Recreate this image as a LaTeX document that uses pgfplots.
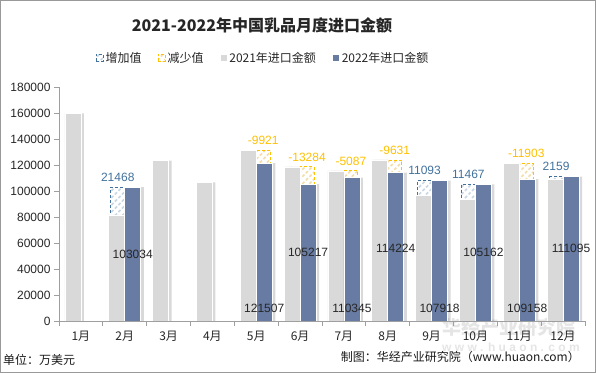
\documentclass[border=0pt]{standalone}
\usepackage{pgfplots}
\pgfplotsset{compat=1.18}
\usepackage{fontspec}
\setmainfont{Liberation Sans}
\newfontfamily\cjk{Noto Sans CJK SC}
\usetikzlibrary{patterns.meta}
\definecolor{c21}{HTML}{D9D9D9}
\definecolor{c22}{HTML}{687BA2}
\definecolor{cinc}{HTML}{41719C}
\definecolor{cdec}{HTML}{FFC000}
\definecolor{incpat}{HTML}{C9D7E3}
\definecolor{decpat}{HTML}{F3DDA8}
\begin{document}
\begin{tikzpicture}
\useasboundingbox (-59bp,-52bp) rectangle (537bp,321bp);
\node[text=gray!20, font=\cjk\bfseries\fontsize{19bp}{21bp}\selectfont] at (450bp,-6bp) {华经产业研究院};
\node[text=gray!20, font=\bfseries\fontsize{12bp}{14bp}\selectfont] at (452bp,-26bp) {w w w . h u a o n . c o m};
\begin{axis}[
  at={(0,0)}, anchor=south west,
  scale only axis, width=526bp, height=234bp,
  xmin=0.5, xmax=12.5, ymin=0, ymax=180000,
  ybar, bar width=16bp,
  axis x line*=bottom, axis y line*=left,
  axis line style={draw=gray!75, line width=0.8bp},
  ytick={0,20000,...,180000},
  scaled y ticks=false,
  /pgf/number format/.cd, fixed, 1000 sep={}, assume math mode=true, /pgfplots/.cd,
  yticklabel style={font=\fontsize{12bp}{14bp}\selectfont, text=black!85},
  ytick style={draw=gray!75, line width=0.8bp},
  tick align=outside, major tick length=5bp, minor tick length=5bp,
  xtick={1,...,12},
  xticklabels={1月,2月,3月,4月,5月,6月,7月,8月,9月,10月,11月,12月},
  xticklabel style={font=\cjk\fontsize{12bp}{14bp}\selectfont, text=black!85, yshift=-2bp},
  xtick style={draw=none},
  minor xtick={0.5,1.5,...,12.5},
  minor x tick style={draw=gray!75, line width=0.8bp},
  legend image code/.code={\draw[#1] (0bp,-3.5bp) rectangle (7bp,3.5bp);},
  legend style={at={(0.388,1.124)}, anchor=center, draw=none, fill=none,
    legend columns=4, font=\cjk\fontsize{12bp}{14bp}\selectfont, text=black!85,
    /tikz/every even column/.append style={column sep=14bp},
    /tikz/every odd column/.append style={column sep=0bp}},
  legend cell align=left,
]
% shadows
\addplot[forget plot, bar shift=-5bp, draw=none, fill=black, fill opacity=0.15]
 coordinates {(1,159800) (2,81566) (3,123300) (4,106700) (5,131428) (6,118501) (7,115432) (8,123855) (9,96825) (10,93695) (11,121061) (12,108936)};
\addplot[forget plot, bar shift=11bp, draw=none, fill=black, fill opacity=0.15]
 coordinates {(2,103034) (5,121507) (6,105217) (7,110345) (8,114224) (9,107918) (10,105162) (11,109158) (12,111095)};
% increase boxes
\addplot[bar shift=-7bp, bar width=14bp, draw=cinc, dash pattern=on 3bp off 2bp, line width=0.9bp, fill=white,
  postaction={pattern={Lines[angle=45,distance=5bp,line width=1.6bp]}, pattern color=incpat},
  nodes near coords, point meta=explicit symbolic,
  every node near coord/.append style={text=cinc, font=\fontsize{12bp}{14bp}\selectfont, yshift=2bp}]
 coordinates {(2,103034)[21468] (9,107918)[11093] (10,105162)[11467] (12,111095)[2159]};
% decrease boxes
\addplot[bar shift=7bp, bar width=14bp, draw=cdec, dash pattern=on 3bp off 2bp, line width=0.9bp, fill=white,
  postaction={pattern={Lines[angle=45,distance=5bp,line width=1.6bp]}, pattern color=decpat},
  nodes near coords, point meta=explicit symbolic,
  every node near coord/.append style={text=cdec, font=\fontsize{12bp}{14bp}\selectfont, yshift=2bp}]
 coordinates {(5,131428)[-9921] (6,118501)[-13284] (7,115432)[-5087] (8,123855)[-9631] (11,121061)[-11903]};
% 2021
\addplot[bar shift=-8bp, fill=c21, draw=white, line width=0.8bp]
 coordinates {(1,159800) (2,81566) (3,123300) (4,106700) (5,131428) (6,118501) (7,115432) (8,123855) (9,96825) (10,93695) (11,121061) (12,108936)};
% 2022
\addplot[bar shift=8bp, fill=c22, draw=white, line width=0.8bp]
 coordinates {(2,103034) (5,121507) (6,105217) (7,110345) (8,114224) (9,107918) (10,105162) (11,109158) (12,111095)};
% 2022 value labels
\addplot[forget plot, bar shift=8bp, draw=none, fill=none,
  nodes near coords, point meta=explicit symbolic,
  every node near coord/.append style={anchor=center, text=black!85, font=\fontsize{12bp}{14bp}\selectfont}]
 coordinates {(2,51000)[103034] (5,10000)[121507] (6,53000)[105217] (7,10000)[110345] (8,56000)[114224] (9,10000)[107918] (10,53000)[105162] (11,10000)[109158] (12,55500)[111095]};
\legend{增加值,减少值,2021年进口金额,2022年进口金额}
\end{axis}
\node[font=\cjk\bfseries\fontsize{16bp}{18bp}\selectfont, text=black!85] at (203bp,296bp) {2021-2022年中国乳品月度进口金额};
\node[anchor=west, font=\cjk\fontsize{12bp}{14bp}\selectfont, text=black!90, inner sep=0pt] at (-56bp,-39bp) {单位：万美元};
\node[anchor=east, font=\cjk\fontsize{12bp}{14bp}\selectfont, text=black!90, inner sep=0pt] at (521bp,-36bp) {制图：华经产业研究院（www.huaon.com）};
\draw[gray!80, line width=1bp] (-58.5bp,-51.5bp) rectangle (536.5bp,320.5bp);
\end{tikzpicture}
\end{document}
